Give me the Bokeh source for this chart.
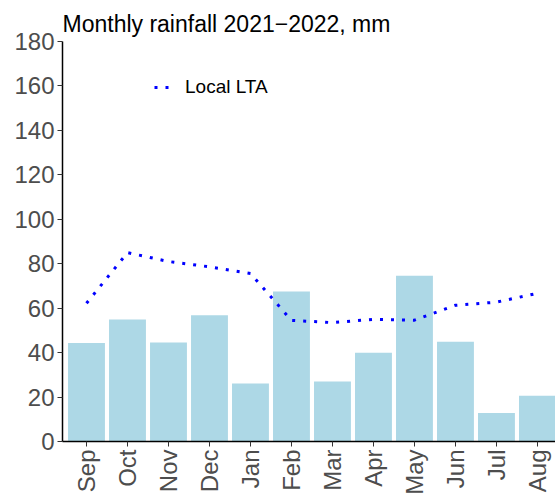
import math
from bokeh.plotting import figure
from bokeh.models import Range1d, FixedTicker, Legend, LegendItem
from bokeh.embed import file_html
from bokeh.resources import INLINE

months = ["Sep", "Oct", "Nov", "Dec", "Jan", "Feb", "Mar", "Apr", "May", "Jun", "Jul", "Aug"]
rainfall = [44.3, 54.9, 44.6, 56.8, 26.1, 67.5, 27.0, 39.9, 74.6, 44.9, 12.8, 20.6]
local_lta = [62.2, 85.0, 81.0, 78.6, 75.6, 54.5, 53.5, 55.0, 54.6, 61.3, 62.7, 66.7]
y_ticks = [0, 20, 40, 60, 80, 100, 120, 140, 160, 180]

xs = list(range(1, len(months) + 1))

p = figure(frame_width=493, frame_height=400, output_backend="svg", toolbar_location=None,
           x_range=Range1d(0.415, 12.44), y_range=Range1d(0, 180),
           min_border_left=62, min_border_right=0, min_border_top=41, min_border_bottom=50)

p.title.text = "Monthly rainfall 2021\u22122022, mm"
p.title.text_font = "Liberation Sans"
p.title.text_font_size = "23px"
p.title.text_font_style = "normal"
p.title.text_color = "black"
p.title.offset = 0

p.vbar(x=xs, top=rainfall, width=0.9, fill_color="#ADD8E6", line_color=None)
lta = p.line(x=xs, y=local_lta, line_color="blue", line_width=3, line_dash="3 8")

p.outline_line_color = None
p.xgrid.grid_line_color = None
p.ygrid.grid_line_color = None
p.background_fill_color = "white"
p.border_fill_color = "white"

for ax in (p.xaxis[0], p.yaxis[0]):
    ax.axis_line_color = "black"
    ax.axis_line_width = 1.5
    ax.major_tick_line_color = "#333333"
    ax.major_tick_in = 0
    ax.major_tick_out = 5
    ax.minor_tick_line_color = None
    ax.major_label_text_font = "Liberation Sans"
    ax.major_label_text_font_size = "24px"
    ax.major_label_text_color = "#4D4D4D"
    ax.major_label_standoff = 3

p.xaxis.ticker = FixedTicker(ticks=xs)
p.xaxis.major_label_overrides = {x: m for x, m in zip(xs, months)}
p.xaxis.major_label_orientation = math.pi / 2
p.yaxis.ticker = FixedTicker(ticks=y_ticks)

legend = Legend(items=[LegendItem(label="Local LTA", renderers=[lta])],
                location=(92, 343), padding=0, margin=0, spacing=0,
                border_line_color=None, background_fill_alpha=0,
                glyph_width=22, glyph_height=20, label_height=20, label_standoff=9,
                label_text_font="Liberation Sans", label_text_font_size="19px",
                label_text_color="black")
p.add_layout(legend, "center")

open("out.html", "w").write(file_html(p, INLINE))
